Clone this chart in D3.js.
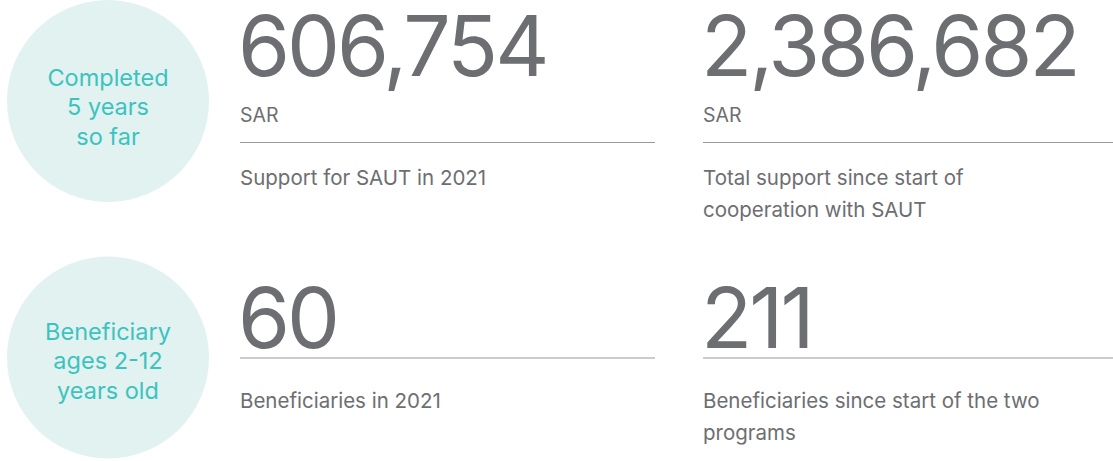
<html>
  <head>
    <meta charset="utf-8">
    <title>SAUT support figures</title>
    <style>
      body { margin: 0; background: #fff; }
      text { font-family: Inter, "Noto Sans", sans-serif; }
    </style>
  </head>
  <body>
    <script src="https://d3js.org/d3.v7.min.js"></script>
    <script>
    var width = 1113, height = 461;

    // data
    var badgeLines = [["Completed", "5 years", "so far"],
                      ["Beneficiary", "ages 2-12", "years old"]];
    var statValues = [[606754, 2386682], [60, 211]];
    var statUnits  = [["SAR", "SAR"], ["", ""]];
    var statLabels = [[["Support for SAUT in 2021"],
                       ["Total support since start of", "cooperation with SAUT"]],
                      [["Beneficiaries in 2021"],
                       ["Beneficiaries since start of the two", "programs"]]];

    var grey = "#6d6e71", teal = "#3cc3bf", pale = "#e1f2f0";
    var fmt = d3.format(",");

    var rowY = d3.scaleOrdinal().domain([0, 1]).range([0, 272]);
    var colX = d3.scaleOrdinal().domain([0, 1]).range([240, 703]);
    var colEnd = [655, 1113];
    var badgeY = [101, 357.5], badgeTextOff = [-15.5, -18];

    var svg = d3.select("body").append("svg")
      .attr("width", width).attr("height", height);

    // circles with teal captions
    var badge = svg.selectAll("g.badge").data(badgeLines).enter()
      .append("g").attr("class", "badge")
      .attr("transform", function(d, i) { return "translate(108," + badgeY[i] + ")"; });

    badge.append("circle").attr("r", 101).attr("fill", pale);

    badge.each(function(lines, b) {
      d3.select(this).selectAll("text").data(lines).enter()
        .append("text")
        .attr("text-anchor", "middle")
        .attr("y", function(d, i) { return badgeTextOff[b] + i * 29.5; })
        .attr("font-size", 23.5)
        .attr("fill", teal)
        .text(function(d) { return d; });
    });

    // stat blocks
    statValues.forEach(function(row, r) {
      row.forEach(function(v, c) {
        var g = svg.append("g")
          .attr("transform", "translate(" + colX(c) + "," + rowY(r) + ")");
        var hasUnit = statUnits[r][c] !== "";
        var lineY = hasUnit ? 142.5 : 86;
        var labelY = hasUnit ? 185 : 136;

        g.append("text")
          .attr("x", -2).attr("y", 76)
          .attr("font-size", 84)
          .attr("letter-spacing", -3)
          .attr("fill", grey)
          .text(fmt(v));

        if (hasUnit) {
          g.append("text").attr("y", 122).attr("font-size", 19.5)
            .attr("fill", grey).text(statUnits[r][c]);
        }

        g.append("line")
          .attr("x1", 0).attr("x2", colEnd[c] - colX(c))
          .attr("y1", lineY).attr("y2", lineY)
          .attr("stroke", "#9a9a9a").attr("stroke-width", 1.2);

        g.selectAll("text.label").data(statLabels[r][c]).enter()
          .append("text").attr("class", "label")
          .attr("y", function(d, i) { return labelY + i * 32; })
          .attr("font-size", 20.5)
          .attr("fill", grey)
          .text(function(d) { return d; });
      });
    });
    </script>
  </body>
</html>
